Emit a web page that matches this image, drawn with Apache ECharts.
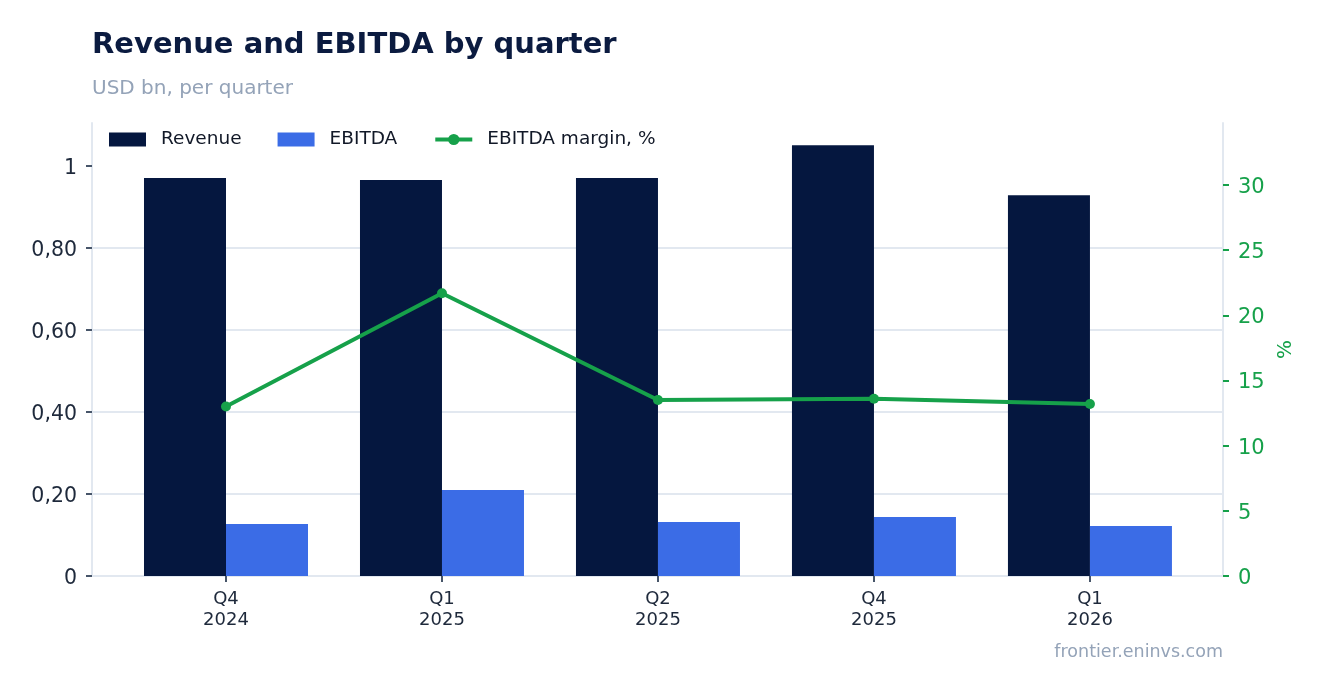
<!DOCTYPE html>
<html>
<head>
<meta charset="utf-8">
<script src="https://cdn.jsdelivr.net/npm/echarts@6/dist/echarts.min.js"></script>
<style>
html,body{margin:0;padding:0;background:#fff;}
#c{width:1323px;height:693px;}
</style>
</head>
<body>
<div id="c"></div>
<script>
const categories = ["Q4\n2024", "Q1\n2025", "Q2\n2025", "Q4\n2025", "Q1\n2026"];
const revenue = [0.971, 0.966, 0.971, 1.051, 0.929];
const ebitda = [0.127, 0.210, 0.132, 0.144, 0.122];
const margin = [13.0, 21.7, 13.5, 13.6, 13.2];
const leftTicks = [0, 0.2, 0.4, 0.6, 0.8, 1];
const rightTicks = [0, 5, 10, 15, 20, 25, 30];

const FONT = "DejaVu Sans";
const NAVY = "#05173f";
const BLUE = "#3b6ce6";
const GREEN = "#16a14a";
const GRIDC = "#e2e8f0";
const TXT = "#1e293b";
const TICK = "#475569";

const idx = categories.map((_, i) => i);
const pair = arr => arr.map((v, i) => [i, v]);
const leftFmt = v => (v === 0 ? '0' : (Math.abs(v - 1) < 1e-9 ? '1' : v.toFixed(2).replace('.', ',')));

const chart = echarts.init(document.getElementById('c'), null, {renderer: 'canvas'});
chart.setOption({
  animation: false,
  backgroundColor: '#fff',
  textStyle: {fontFamily: FONT},
  title: [
    {text: 'Revenue and EBITDA by quarter', left: 92, top: 31, padding: 0,
     textStyle: {fontFamily: FONT, fontSize: 29, fontWeight: 'bold', color: '#0b1b40'}},
    {text: 'USD bn, per quarter', left: 92, top: 79, padding: 0,
     textStyle: {fontFamily: FONT, fontSize: 20, fontWeight: 'normal', color: '#94a3b8'}},
    {text: 'frontier.eninvs.com', right: 100, top: 643, padding: 0,
     textStyle: {fontFamily: FONT, fontSize: 17.5, fontWeight: 'normal', color: '#94a3b8'}}
  ],
  legend: {
    left: 109, top: 130, padding: 0,
    itemWidth: 37, itemHeight: 14, itemGap: 36,
    textStyle: {fontFamily: FONT, fontSize: 18.5, color: '#111827', padding: [0,0,0,10]},
    data: [
      {name: 'Revenue', icon: 'rect'},
      {name: 'EBITDA', icon: 'rect'},
      {name: 'EBITDA margin, %', lineStyle: {width: 4, color: GREEN}, itemStyle: {color: GREEN}}
    ]
  },
  grid: {left: 92, right: 100, top: 123, bottom: 117, containLabel: false},
  xAxis: {
    type: 'value', min: -0.6204, max: 4.616,
    axisLine: {show: true, onZero: false, lineStyle: {color: GRIDC, width: 2}},
    axisTick: {show: true, customValues: idx, length: 6, lineStyle: {color: TICK, width: 2}},
    axisLabel: {customValues: idx, formatter: v => categories[Math.round(v)] || '',
      fontFamily: FONT, fontSize: 18, color: TXT, lineHeight: 21, margin: 13},
    splitLine: {show: false}
  },
  yAxis: [
    {type: 'value', min: 0, max: 1.105, position: 'left', interval: 0.2,
     axisLine: {show: true, onZero: false, lineStyle: {color: GRIDC, width: 2}},
     axisTick: {show: true, customValues: leftTicks, length: 6, lineStyle: {color: TICK, width: 2}},
     axisLabel: {customValues: leftTicks, margin: 15,
       formatter: v => '{a|' + leftFmt(v) + '}',
       rich: {a: {fontFamily: FONT, fontSize: 20.5, color: TXT, padding: [5, 0, 0, 0]}}},
     splitLine: {show: true, showMinLine: false, showMaxLine: false, lineStyle: {color: GRIDC, width: 2}}
    },
    {type: 'value', min: 0, max: 34.76, position: 'right', interval: 5,
     name: '%', nameLocation: 'middle', nameGap: 51, nameRotate: 90,
     nameTextStyle: {fontFamily: FONT, fontSize: 20, color: GREEN},
     axisLine: {show: true, onZero: false, lineStyle: {color: GRIDC, width: 2}},
     axisTick: {show: true, customValues: rightTicks, length: 6, lineStyle: {color: GREEN, width: 2}},
     axisLabel: {customValues: rightTicks, margin: 15,
       formatter: v => '{a|' + v + '}',
       rich: {a: {fontFamily: FONT, fontSize: 21, color: GREEN, padding: [5, 0, 0, 0]}}},
     splitLine: {show: false}
    }
  ],
  series: [
    {name: 'Revenue', type: 'bar', data: pair(revenue), barWidth: 82, barGap: '0%',
     itemStyle: {color: NAVY}},
    {name: 'EBITDA', type: 'bar', data: pair(ebitda), barWidth: 82, barGap: '0%',
     itemStyle: {color: BLUE}},
    {name: 'EBITDA margin, %', type: 'line', yAxisIndex: 1, data: pair(margin),
     symbol: 'circle', symbolSize: 10, z: 5,
     lineStyle: {color: GREEN, width: 4}, itemStyle: {color: GREEN}}
  ]
});
</script>
</body>
</html>
